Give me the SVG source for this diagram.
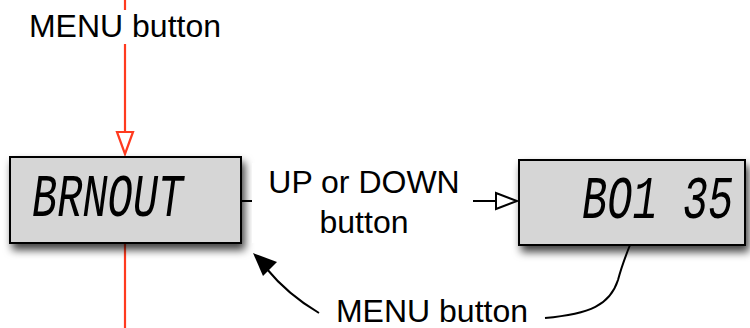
<svg xmlns="http://www.w3.org/2000/svg" width="750" height="328" viewBox="0 0 750 328">
<defs>
<style>
.lbl{font-family:"Liberation Sans",Arial,sans-serif;font-size:32px;fill:#000;text-anchor:middle}
.lcd{font-family:"Liberation Mono","Courier New",monospace;font-size:42px;font-style:italic;fill:#000}
.box{fill:#d6d6d6;stroke:#000;stroke-width:2;filter:url(#sh)}
.red{stroke:#ff3a1f;stroke-width:2.2;fill:none}
.blk{stroke:#000;stroke-width:2;fill:none}
</style>
<filter id="sh" x="-10%" y="-20%" width="130%" height="160%">
<feDropShadow dx="3" dy="6" stdDeviation="4" flood-color="#000" flood-opacity="0.75"/>
</filter>
</defs>
<g id="connectors">
<line class="red" x1="125" y1="0" x2="125" y2="132"/>
<polygon points="117,132 133,132 125,154" fill="#fff" stroke="#ff3a1f" stroke-width="2.2"/>
<line class="red" x1="125" y1="243" x2="125" y2="328"/>
<line class="blk" x1="241" y1="201" x2="496" y2="201"/>
<polygon points="496,193 496,209 517,201" fill="#fff" stroke="#000" stroke-width="2"/>
<path class="blk" d="M319,313 C302,303 284,290 266,268"/>
<polygon points="253,253 277,262 263,276" fill="#000"/>
<path class="blk" d="M545,318 C590,314 610,305 618,280 C622,265 626,255 630,245"/>
</g>
<g id="node-brnout">
<rect class="box" x="10" y="157" width="231" height="86"/>
<text class="lcd" transform="translate(32,216) scale(1,1.45)">BRNOUT</text>
</g>
<g id="node-bo135">
<rect class="box" x="519" y="160" width="226" height="85"/>
<text class="lcd" transform="translate(582,218) scale(1,1.45)">BO1 35</text>
</g>
<g id="label-menu-top">
<rect x="27" y="10" width="198" height="34" fill="#fff"/>
<text class="lbl" x="125" y="37">MENU button</text>
</g>
<g id="label-updown">
<rect x="252" y="163" width="221" height="80" fill="#fff"/>
<text class="lbl" x="364" y="193">UP or DOWN</text>
<text class="lbl" x="364" y="233">button</text>
</g>
<g id="label-menu-bottom">
<text class="lbl" x="432" y="322">MENU button</text>
</g>
</svg>
